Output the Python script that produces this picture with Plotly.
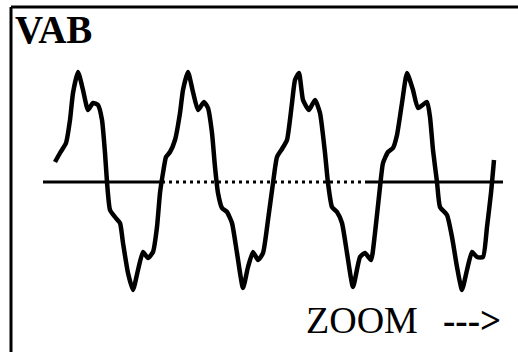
import plotly.graph_objects as go

# Waveform samples (time in screen samples, voltage in arbitrary units)
t = [55, 60, 66, 70, 73, 78, 83, 88, 93, 98, 102, 105, 107, 110, 115, 120, 123, 128, 133, 138,
     143, 148, 153, 157, 160, 163, 166, 170,
     175, 180, 183, 188, 193, 198, 204, 208, 212, 215, 218, 222, 227, 232, 237, 243, 248, 253,
     258, 263, 268, 273, 277, 282,
     287, 292, 295, 299, 303, 309, 315, 320, 325, 328, 332, 337, 342, 347, 353, 360, 365, 371,
     375, 380, 383, 388, 393,
     397, 402, 407, 413, 418, 427, 430, 433, 437, 440, 447, 452, 457, 462, 467, 472, 477, 483,
     487, 491, 494]
v = [20, 29, 39, 62, 89, 110, 92, 72, 79, 77, 62, 29, 0, -28, -35, -41, -61, -91, -108, -88,
     -70, -76, -70, -45, -11, 9, 25, 30,
     42, 69, 92, 110, 90, 72, 80, 74, 49, 15, -11, -26, -30, -41, -71, -106, -85, -70,
     -78, -71, -38, -1, 25, 33,
     42, 79, 102, 109, 82, 72, 82, 69, 29, -1, -25, -30, -41, -71, -105, -75, -71, -78,
     -51, -5, 19, 30, 34,
     47, 79, 109, 92, 74, 80, 65, 32, 0, -25, -33, -55, -85, -108, -88, -70, -75, -75,
     -45, -11, 22]

# Zero reference line: solid, dotted, solid segments
zero_solid_a = [43, 162]
zero_dotted = [162, 367]
zero_solid_b = [367, 503]
zero_level = 0

title_text = "VAB"
zoom_text = "ZOOM"
arrow_text = "--->"

fig = go.Figure()
fig.add_trace(go.Scatter(x=zero_solid_a, y=[zero_level] * 2, mode="lines",
                         line=dict(color="black", width=3), hoverinfo="skip"))
fig.add_trace(go.Scatter(x=zero_dotted, y=[zero_level] * 2, mode="lines",
                         line=dict(color="black", width=3, dash="3px,4px"), hoverinfo="skip"))
fig.add_trace(go.Scatter(x=zero_solid_b, y=[zero_level] * 2, mode="lines",
                         line=dict(color="black", width=3), hoverinfo="skip"))
fig.add_trace(go.Scatter(x=t, y=v, mode="lines", hoverinfo="skip",
                         line=dict(color="black", width=4.5, shape="spline", smoothing=0.5)))

fig.update_layout(
    width=518, height=352,
    margin=dict(l=11, r=0, t=7, b=0, pad=0),
    paper_bgcolor="white", plot_bgcolor="white",
    showlegend=False,
    hovermode=False,
    xaxis=dict(range=[11, 518], showline=False, visible=False,
               showgrid=False, zeroline=False),
    yaxis=dict(range=[-170, 175], showline=False, visible=False,
               showgrid=False, zeroline=False),
    shapes=[
        dict(type="line", xref="paper", yref="paper", x0=0, x1=1, y0=1, y1=1,
             line=dict(color="black", width=3)),
        dict(type="line", xref="paper", yref="paper", x0=0, x1=0, y0=0, y1=1,
             line=dict(color="black", width=3)),
    ],
    annotations=[
        dict(x=13, y=153, xref="x", yref="y", text=title_text, showarrow=False,
             xanchor="left", yanchor="middle",
             font=dict(family="Liberation Serif", size=39, color="black", weight="bold")),
        dict(x=304, y=-138, xref="x", yref="y", text=zoom_text, showarrow=False,
             xanchor="left", yanchor="middle",
             font=dict(family="Liberation Serif", size=38, color="black")),
        dict(x=441, y=-138, xref="x", yref="y", text=arrow_text, showarrow=False,
             xanchor="left", yanchor="middle",
             font=dict(family="Liberation Serif", size=37, color="black", weight="bold")),
    ],
)

fig.write_html(
    "out.html",
    config={"displayModeBar": False, "staticPlot": True},
    post_script=("document.documentElement.style.margin='0px';"
                 "document.documentElement.style.overflow='hidden';"
                 "document.body.style.margin='0px';"
                 "document.body.style.overflow='hidden';"),
)
